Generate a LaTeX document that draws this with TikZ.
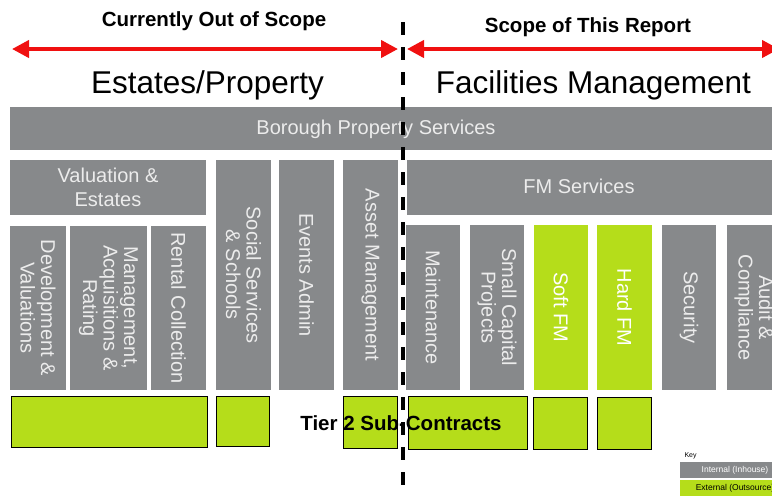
\documentclass[tikz,border=0pt]{standalone}
\usepackage{fontspec}
\setmainfont{Liberation Sans}
\usepackage{xcolor}
\usetikzlibrary{arrows.meta,positioning}
\definecolor{bpsgrey}{HTML}{87898B}
\definecolor{boxtext}{HTML}{ECECEC}
\definecolor{fmgreen}{HTML}{B5DD1A}
\definecolor{scopered}{HTML}{F01010}

\begin{document}
\begin{tikzpicture}[
  x=1pt, y=-1pt,
  node distance=2pt,
  gbox/.style={rectangle, fill=bpsgrey, draw=none, outer sep=0pt, inner sep=1pt,
               text=boxtext, align=center, font=\fontsize{20}{24}\selectfont},
  vbox/.style={gbox, rotate=-90, font=\fontsize{20}{20.5}\selectfont},
  lime/.style={fill=fmgreen, text=white},
  sub/.style={rectangle, fill=fmgreen, draw=black, line width=1.3pt, anchor=north west},
  scope/.style={draw=scopered, line width=4pt,
                {Triangle[length=17pt,width=17pt]}-{Triangle[length=17pt,width=17pt]}},
  divider/.style={draw=black, line width=4pt, dash pattern=on 13pt off 12pt},
  head/.style={font=\bfseries\fontsize{20.5}{24}\selectfont},
  area/.style={font=\fontsize{31.5}{36}\selectfont},
  keybar/.style={rectangle, minimum width=110pt, minimum height=16pt, inner sep=0pt,
                 outer sep=0pt, font=\fontsize{8.5}{10}\selectfont},
]
\useasboundingbox (0,0) rectangle (772,496);
\clip (0,0) rectangle (772,496);

\node[head] (oos) at (214,21) {Currently Out of Scope};
\node[head] (tsr) at (588,27) {Scope of This Report};
\coordinate (oos-l) at (12,49);
\coordinate (oos-r) at (398,49);
\coordinate (tsr-l) at (407,49);
\coordinate (tsr-r) at (779,49);
\draw[scope] (oos-l) -- (oos-r);
\draw[scope] (tsr-l) -- (tsr-r);

\node[area] (estates) at (207.5,85) {Estates/Property};
\node[area] (fm) at (593.5,85) {Facilities Management};

\node[gbox, anchor=north west, minimum width=790pt, minimum height=43pt] (bps) at (10,107) {};
\node[gbox, fill=none] at (376,129) {Borough Property Services};

\node[gbox, anchor=north west, minimum width=196pt, minimum height=55pt] (val) at (10,160)
  {Valuation \&\\Estates};
\node[gbox, anchor=north west, minimum width=400pt, minimum height=55pt] (fms) at (407,160) {};
\node[gbox, fill=none] at (579,186) {FM Services};

\node[vbox, minimum width=164pt, minimum height=56pt] (dev) at (38,308)
  {Development \&\\Valuations};
\node[vbox, minimum width=164pt, minimum height=77pt] (mar) at (108.5,308)
  {Management,\\Acquisitions \&\\Rating};
\node[vbox, minimum width=164pt, minimum height=55pt] (rent) at (178.5,308)
  {Rental Collection};
\node[vbox, minimum width=230pt, minimum height=55pt] (social) at (243.5,275)
  {Social Services\\\& Schools};
\node[vbox, minimum width=230pt, minimum height=55pt] (events) at (306.5,275)
  {Events Admin};
\node[vbox, minimum width=230pt, minimum height=55pt] (asset) at (370.5,275)
  {Asset Management};

\node[vbox, minimum width=165pt, minimum height=54pt] (maint) at (433,307.5)
  {Maintenance};
\node[vbox, minimum width=165pt, minimum height=54pt] (scp) at (497,307.5)
  {Small Capital\\Projects};
\node[vbox, lime, minimum width=165pt, minimum height=54pt] (soft) at (561,307.5)
  {Soft FM};
\node[vbox, lime, minimum width=165pt, minimum height=55pt] (hard) at (624.5,307.5)
  {Hard FM};
\node[vbox, minimum width=165pt, minimum height=54pt] (sec) at (689,307.5)
  {Security};
\node[vbox, minimum width=165pt, minimum height=54pt] (audit) at (754,307.5)
  {Audit \&\\Compliance};

\node[sub, minimum width=196pt, minimum height=51pt] (t2-val) at (11,396) {};
\node[sub, minimum width=53pt, minimum height=50pt] (t2-soc) at (216,396) {};
\node[sub, minimum width=54pt, minimum height=52pt] (t2-ass) at (343,396) {};
\node[sub, minimum width=119pt, minimum height=53pt] (t2-mnt) at (408,396) {};
\node[sub, minimum width=54pt, minimum height=52pt] (t2-sft) at (533,397) {};
\node[sub, minimum width=54pt, minimum height=52pt] (t2-hrd) at (597,397) {};
\node[font=\bfseries\fontsize{20.5}{24}\selectfont] (tier2) at (401,423) {Tier 2 Sub-Contracts};

\coordinate (div-top) at (403,22);
\coordinate (div-bot) at (403,500);
\draw[divider] (div-top) -- (div-bot);

\node[keybar, fill=bpsgrey, text=white, anchor=north west] (k-int) at (680,462) {Internal (Inhouse)};
\node[keybar, fill=fmgreen, text=black, below=2pt of k-int] (k-ext) {External (Outsource)};
\node[font=\fontsize{7}{8}\selectfont, above right=0pt and 1pt of k-int.north west] (key) {Key};
\end{tikzpicture}
\end{document}
